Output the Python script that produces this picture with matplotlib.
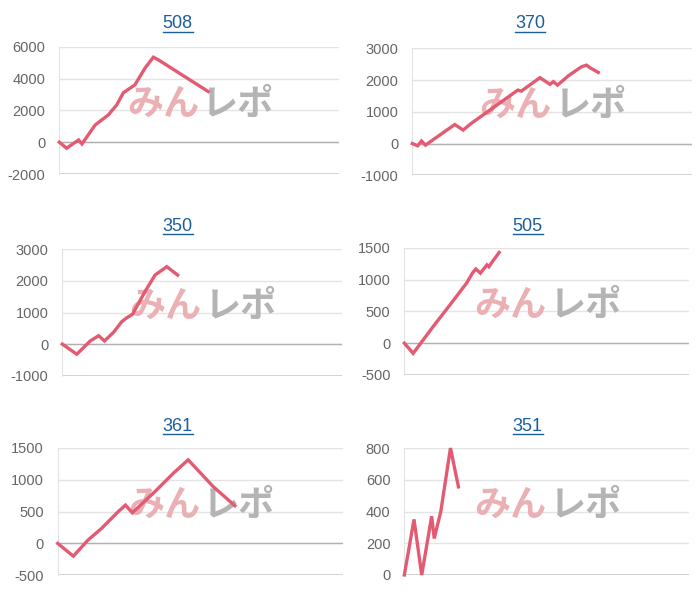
import matplotlib
matplotlib.use('Agg')
import matplotlib.pyplot as plt
from matplotlib.lines import Line2D

plt.rcParams['font.family'] = ['Liberation Sans', 'DejaVu Sans']
plt.rcParams['axes.unicode_minus'] = False

# machine numbers (panel titles)
titles = ['508', '370', '350', '505', '361', '351']

# x = position along the day (0-100), y = diff coins
x_508 = [0, 2.6, 6.9, 8.1, 12.8, 17.5, 20.5, 22.9, 27.0, 30.6, 33.6, 35.4, 53.2]
y_508 = [0, -380, 140, -110, 1080, 1710, 2340, 3110, 3600, 4650, 5340, 5170, 3180]

x_370 = [0, 1.9, 3.3, 4.7, 15.2, 18.2, 21.1, 37.8, 39.0, 45.7, 49.3, 50.5, 52.0, 55.9, 60.6, 62.4, 63.6, 66.6]
y_370 = [0, -70, 80, -50, 600, 425, 635, 1685, 1650, 2075, 1865, 1950, 1840, 2135, 2420, 2470, 2390, 2240]

x_350 = [0, 5.2, 10.0, 13.0, 15.1, 18.3, 21.3, 23.1, 25.1, 29.6, 33.2, 37.4, 41.3]
y_350 = [0, -320, 100, 265, 100, 370, 710, 835, 940, 1660, 2185, 2450, 2185]

x_505 = [0, 3.1, 10.1, 16.0, 21.8, 23.9, 25.1, 26.7, 29.0, 29.7, 30.9, 33.3]
y_505 = [0, -160, 260, 600, 940, 1100, 1165, 1100, 1230, 1200, 1280, 1425]

x_361 = [0, 5.5, 10.7, 15.4, 21.3, 23.8, 26.2, 34.1, 40.6, 45.8, 54.6, 62.2]
y_361 = [0, -200, 55, 235, 500, 600, 480, 810, 1100, 1310, 890, 590]

x_351 = [0, 3.4, 6.1, 9.6, 10.5, 12.8, 16.2, 19.0]
y_351 = [0, 350, 0, 370, 230, 400, 800, 555]

xs = [x_508, x_370, x_350, x_505, x_361, x_351]
ys = [y_508, y_370, y_350, y_505, y_361, y_351]

yticks = [
    [-2000, 0, 2000, 4000, 6000],
    [-1000, 0, 1000, 2000, 3000],
    [-1000, 0, 1000, 2000, 3000],
    [-500, 0, 500, 1000, 1500],
    [-500, 0, 500, 1000, 1500],
    [0, 200, 400, 600, 800],
]

# axes rectangles in figure fraction
rects = [
    [0.0847, 0.710, 0.400, 0.2122],
    [0.589, 0.7078, 0.399, 0.2117],
    [0.089, 0.3738, 0.399, 0.2107],
    [0.5776, 0.375, 0.407, 0.2122],
    [0.0824, 0.0412, 0.407, 0.2126],
    [0.5776, 0.0417, 0.407, 0.2116],
]
title_pos = [(0.254, 0.960), (0.757, 0.960), (0.254, 0.622), (0.754, 0.622), (0.254, 0.289), (0.754, 0.289)]

line_color = '#e35b72'
title_color = '#1a5e9a'

fig = plt.figure(figsize=(7, 6), dpi=100)
title_texts = []

for i in range(6):
    ax = fig.add_axes(rects[i])
    ax.set_xlim(0, 100)
    ax.set_ylim(yticks[i][0], yticks[i][-1])
    ax.set_yticks(yticks[i])
    ax.set_yticklabels([str(v) for v in yticks[i]])
    ax.set_xticks([])
    ax.tick_params(axis='y', length=0, pad=10, labelsize=10.5, labelcolor='#666666')
    for side in ['top', 'right', 'bottom']:
        ax.spines[side].set_visible(False)
    ax.spines['left'].set_color('#e2e2e2')
    ax.grid(axis='y', color='#e4e4e4', linewidth=1)
    ax.set_axisbelow(True)
    ax.axhline(0, color='#b0b0b0', linewidth=1, zorder=1)
    ax.axhline(yticks[i][0], color='#cccccc', linewidth=1.2, zorder=1)

    # watermark logo
    ax.text(0.50, 0.55, 'みん', transform=ax.transAxes, ha='right', va='center',
            fontsize=26, fontweight='bold', color='#eab0b4',
            family=['Noto Sans CJK JP', 'DejaVu Sans'], zorder=2)
    ax.text(0.51, 0.55, 'レポ', transform=ax.transAxes, ha='left', va='center',
            fontsize=26, fontweight='bold', color='#b4b4b4',
            family=['Noto Sans CJK JP', 'DejaVu Sans'], zorder=2)

    ax.plot(xs[i], ys[i], color=line_color, linewidth=2.4, solid_joinstyle='miter',
            zorder=3, clip_on=False)

    t = fig.text(title_pos[i][0], title_pos[i][1], titles[i], ha='center', va='center',
                 fontsize=13, color=title_color)
    title_texts.append(t)

# underline the titles (they are links)
fig.canvas.draw()
inv = fig.transFigure.inverted()
for t in title_texts:
    bb = t.get_window_extent()
    (x0, y0), (x1, y1) = inv.transform([(bb.x0, bb.y0 + 1), (bb.x1, bb.y0 + 1)])
    fig.add_artist(Line2D([x0, x1], [y0, y1], color=title_color, linewidth=1.0,
                          transform=fig.transFigure))

fig.savefig('out.png', dpi=100)
